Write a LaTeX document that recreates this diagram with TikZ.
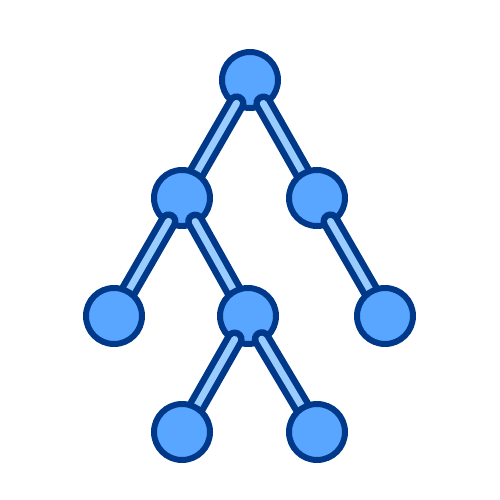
\documentclass[tikz,border=0pt]{standalone}
\usetikzlibrary{calc}

\definecolor{navy}{HTML}{00398A}
\definecolor{sky}{HTML}{58A6FF}
\definecolor{pale}{HTML}{99CCFF}

\tikzset{
	vertex/.style={circle, draw=navy, fill=sky, line width=6pt, minimum size=56pt, inner sep=0pt},
	link/.style={draw=navy, line width=6.5pt, double=pale, double distance=7pt, line cap=round},
}

\begin{document}
\begin{tikzpicture}[x=1pt, y=-1pt]
	\useasboundingbox (0,0) rectangle (500,500);

	\coordinate (r) at (250,80);
	\coordinate (a) at (182,198);
	\coordinate (b) at (317,198);
	\coordinate (aa) at (114,316);
	\coordinate (ab) at (248,316);
	\coordinate (bb) at (385,316);
	\coordinate (aba) at (182,432);
	\coordinate (abb) at (317,432);

	\node[vertex] (R) at (r) {};
	\draw[link] ($(r)!27pt!(a)$) -- (a);
	\draw[link] ($(r)!27pt!(b)$) -- (b);

	\node[vertex] (A) at (a) {};
	\node[vertex] (B) at (b) {};
	\draw[link] ($(a)!27pt!(aa)$) -- (aa);
	\draw[link] ($(a)!27pt!(ab)$) -- (ab);
	\draw[link] ($(b)!27pt!(bb)$) -- (bb);

	\node[vertex] (AA) at (aa) {};
	\node[vertex] (AB) at (ab) {};
	\node[vertex] (BB) at (bb) {};
	\draw[link] ($(ab)!27pt!(aba)$) -- (aba);
	\draw[link] ($(ab)!27pt!(abb)$) -- (abb);

	\node[vertex] (ABA) at (aba) {};
	\node[vertex] (ABB) at (abb) {};
\end{tikzpicture}
\end{document}
